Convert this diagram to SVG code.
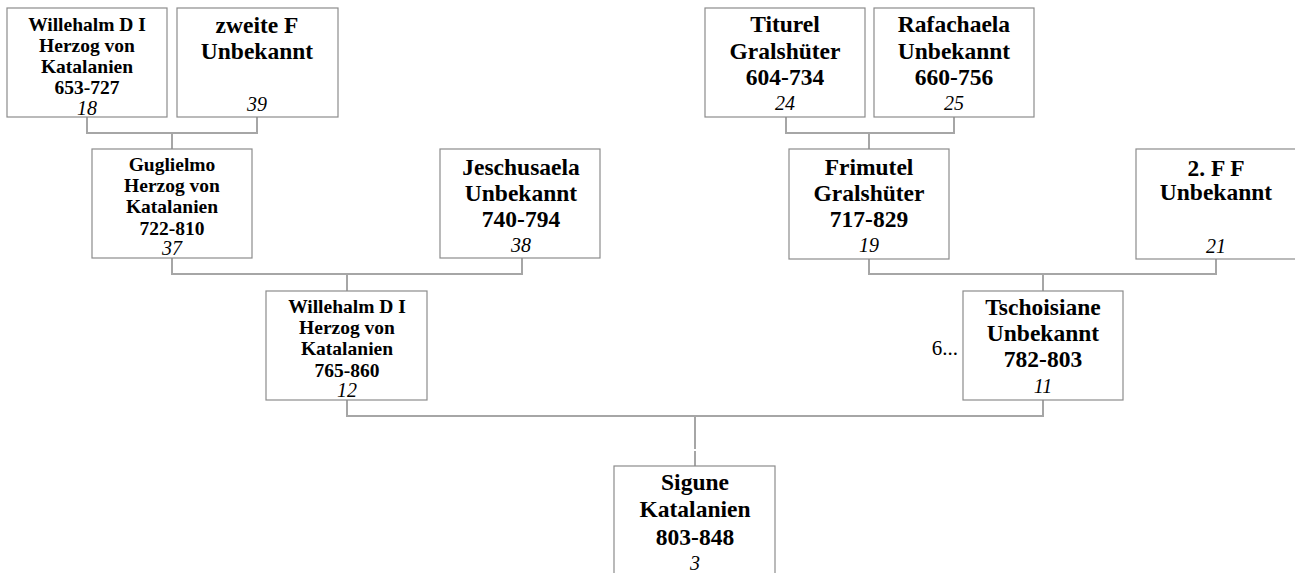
<svg xmlns="http://www.w3.org/2000/svg" width="1295" height="573" viewBox="0 0 1295 573">
<style>
.box{fill:#fff;stroke:#8c8c8c;stroke-width:1.2}
.ln{fill:none;stroke:#a6a6a6;stroke-width:2}
text{font-family:"Liberation Serif","Times New Roman",serif;fill:#000;text-anchor:middle}
.s{font-size:19.5px;font-weight:bold}
.b{font-size:23.5px;font-weight:bold}
.n{font-size:20px;font-style:italic}
.r{font-size:21px;text-anchor:end}
</style>
<rect width="1295" height="573" fill="#fff"/>
<g id="connectors">
<path class="ln" d="M87 117V133H257V117M172 133V149"/>
<path class="ln" d="M172 258V274H522V258M347 274V291"/>
<path class="ln" d="M786 117V133H954V117M869 133V149"/>
<path class="ln" d="M869 259V274H1216V259M1043 274V291"/>
<path class="ln" d="M347 400V416H1043V400M695 416V449M695 451V466"/>
</g>
<g id="n18">
<rect class="box" x="7" y="8" width="160" height="109"/>
<text class="s" x="87" y="31">Willehalm D I</text>
<text class="s" x="87" y="52">Herzog von</text>
<text class="s" x="87" y="73">Katalanien</text>
<text class="s" x="87" y="94">653-727</text>
<text class="n" x="87" y="115">18</text>
</g>
<g id="n39">
<rect class="box" x="177" y="8" width="161" height="109"/>
<text class="b" x="257" y="33">zweite F</text>
<text class="b" x="257" y="59">Unbekannt</text>
<text class="n" x="257" y="111">39</text>
</g>
<g id="n37">
<rect class="box" x="92" y="149" width="160" height="109"/>
<text class="s" x="172" y="171">Guglielmo</text>
<text class="s" x="172" y="192">Herzog von</text>
<text class="s" x="172" y="213">Katalanien</text>
<text class="s" x="172" y="235">722-810</text>
<text class="n" x="172" y="255">37</text>
</g>
<g id="n38">
<rect class="box" x="440" y="149" width="160" height="109"/>
<text class="b" x="521" y="175">Jeschusaela</text>
<text class="b" x="521" y="201">Unbekannt</text>
<text class="b" x="521" y="227">740-794</text>
<text class="n" x="521" y="252">38</text>
</g>
<g id="n12">
<rect class="box" x="266" y="291" width="161" height="109"/>
<text class="s" x="347" y="313">Willehalm D I</text>
<text class="s" x="347" y="334">Herzog von</text>
<text class="s" x="347" y="355">Katalanien</text>
<text class="s" x="347" y="377">765-860</text>
<text class="n" x="347" y="397">12</text>
</g>
<g id="n24">
<rect class="box" x="705" y="8" width="160" height="109"/>
<text class="b" x="785" y="32">Titurel</text>
<text class="b" x="785" y="59">Gralshüter</text>
<text class="b" x="785" y="85">604-734</text>
<text class="n" x="785" y="110">24</text>
</g>
<g id="n25">
<rect class="box" x="874" y="8" width="160" height="109"/>
<text class="b" x="954" y="32">Rafachaela</text>
<text class="b" x="954" y="59">Unbekannt</text>
<text class="b" x="954" y="85">660-756</text>
<text class="n" x="954" y="110">25</text>
</g>
<g id="n19">
<rect class="box" x="789" y="149" width="160" height="110"/>
<text class="b" x="869" y="175">Frimutel</text>
<text class="b" x="869" y="201">Gralshüter</text>
<text class="b" x="869" y="227">717-829</text>
<text class="n" x="869" y="252">19</text>
</g>
<g id="n21">
<rect class="box" x="1136" y="149" width="160" height="110"/>
<text class="b" x="1216" y="176">2. F F</text>
<text class="b" x="1216" y="200">Unbekannt</text>
<text class="n" x="1216" y="253">21</text>
</g>
<g id="n11">
<rect class="box" x="963" y="291" width="160" height="109"/>
<text class="b" x="1043" y="315">Tschoisiane</text>
<text class="b" x="1043" y="341">Unbekannt</text>
<text class="b" x="1043" y="367">782-803</text>
<text class="n" x="1043" y="393">11</text>
<text class="r" x="958" y="355">6...</text>
</g>
<g id="n3">
<rect class="box" x="614" y="466" width="161" height="120"/>
<text class="b" x="695" y="490">Sigune</text>
<text class="b" x="695" y="517">Katalanien</text>
<text class="b" x="695" y="545">803-848</text>
<text class="n" x="695" y="570">3</text>
</g>
</svg>
